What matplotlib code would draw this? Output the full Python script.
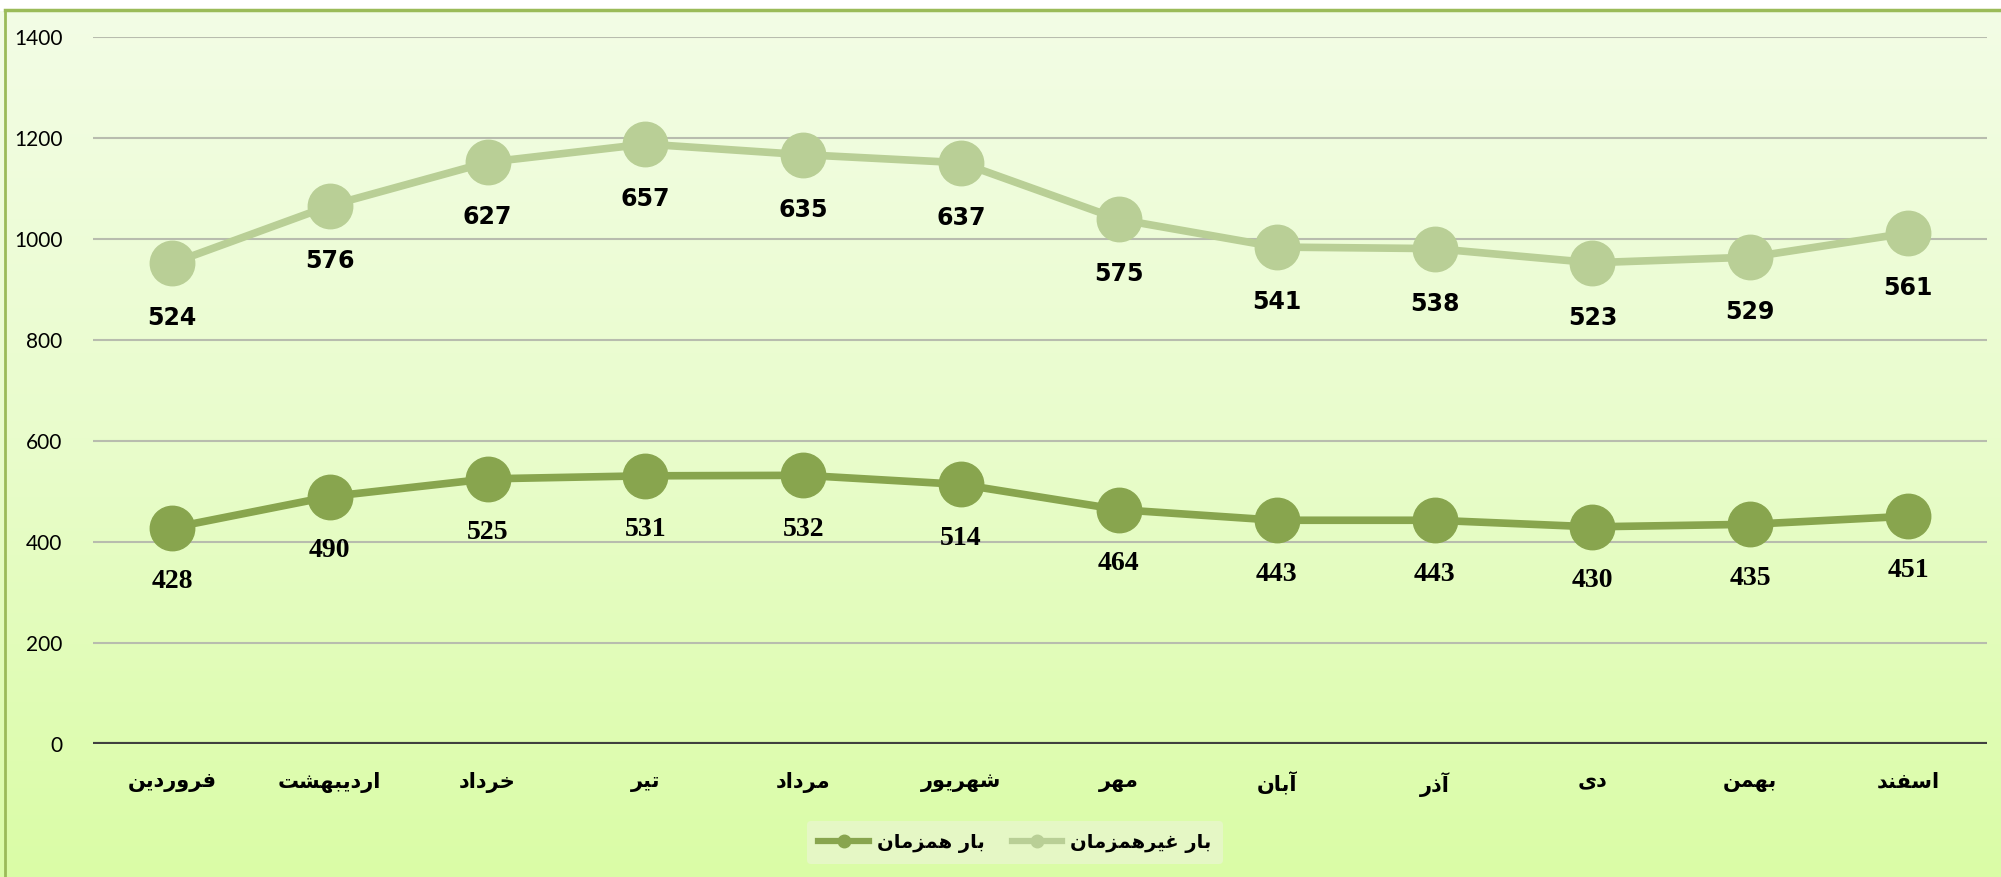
import matplotlib.pyplot as plt
import numpy as np
from matplotlib.lines import Line2D
from matplotlib.colors import LinearSegmentedColormap

# Monthly load values (stacked line chart)
months = ["فروردین", "اردیبهشت", "خرداد", "تیر", "مرداد", "شهریور",
          "مهر", "آبان", "آذر", "دی", "بهمن", "اسفند"]
simultaneous = [428, 490, 525, 531, 532, 514, 464, 443, 443, 430, 435, 451]
non_simultaneous = [524, 576, 627, 657, 635, 637, 575, 541, 538, 523, 529, 561]
name_sim = "بار همزمان"
name_nonsim = "بار غیرهمزمان"
y_ticks = [0, 200, 400, 600, 800, 1000, 1200, 1400]

# matplotlib has no arabic shaping, so pick presentation forms by hand
FORMS = {
    "ا": ("\uFE8D", "\uFE8E", None, None),
    "آ": ("\uFE81", "\uFE82", None, None),
    "ب": ("\uFE8F", "\uFE90", "\uFE91", "\uFE92"),
    "ت": ("\uFE95", "\uFE96", "\uFE97", "\uFE98"),
    "خ": ("\uFEA5", "\uFEA6", "\uFEA7", "\uFEA8"),
    "د": ("\uFEA9", "\uFEAA", None, None),
    "ذ": ("\uFEAB", "\uFEAC", None, None),
    "ر": ("\uFEAD", "\uFEAE", None, None),
    "ز": ("\uFEAF", "\uFEB0", None, None),
    "س": ("\uFEB1", "\uFEB2", "\uFEB3", "\uFEB4"),
    "ش": ("\uFEB5", "\uFEB6", "\uFEB7", "\uFEB8"),
    "غ": ("\uFECD", "\uFECE", "\uFECF", "\uFED0"),
    "ف": ("\uFED1", "\uFED2", "\uFED3", "\uFED4"),
    "م": ("\uFEE1", "\uFEE2", "\uFEE3", "\uFEE4"),
    "ن": ("\uFEE5", "\uFEE6", "\uFEE7", "\uFEE8"),
    "ه": ("\uFEE9", "\uFEEA", "\uFEEB", "\uFEEC"),
    "و": ("\uFEED", "\uFEEE", None, None),
    "ی": ("\uFBFC", "\uFBFD", "\uFBFE", "\uFBFF"),
}


def shape(word):
    out = []
    for i, ch in enumerate(word):
        if ch not in FORMS:
            out.append(ch)
            continue
        prev = word[i - 1] if i > 0 else None
        nxt = word[i + 1] if i + 1 < len(word) else None
        join_prev = prev in FORMS and FORMS[prev][2] is not None
        join_next = nxt in FORMS and FORMS[ch][2] is not None
        iso, fin, ini, med = FORMS[ch]
        if join_prev and join_next:
            out.append(med)
        elif join_prev:
            out.append(fin)
        elif join_next:
            out.append(ini)
        else:
            out.append(iso)
    return "".join(out)[::-1]


x = np.arange(len(months))
top = np.array(simultaneous) + np.array(non_simultaneous)

dark = "#88a54e"
light = "#b9cf96"

fig = plt.figure(figsize=(20.01, 8.77), dpi=100)

# background gradient
bg = fig.add_axes([0, 0, 1, 1], zorder=-2)
cmap = LinearSegmentedColormap.from_list("bg", ["#f3fde6", "#e9fccc", "#dafca6"])
bg.imshow(np.linspace(0, 1, 256).reshape(-1, 1), aspect="auto", cmap=cmap,
          extent=[0, 1, 0, 1], transform=bg.transAxes)
bg.axis("off")
fig.patches.append(plt.Rectangle((0, 0.989), 1, 0.011, transform=fig.transFigure,
                                 color="white", zorder=-1))
fig.lines.append(Line2D([0.0025, 1], [0.989, 0.989], transform=fig.transFigure,
                        color="#9bbb59", lw=2.5))
fig.lines.append(Line2D([0.0025, 0.0025], [0, 0.989], transform=fig.transFigure,
                        color="#9bbb59", lw=2))

ax = fig.add_axes([0.0465, 0.1517, 0.9465, 0.8061])
ax.set_facecolor("none")

ax.plot(x, simultaneous, color=dark, lw=5.5, marker="o", ms=32,
        zorder=3, solid_capstyle="round")
ax.plot(x, top, color=light, lw=5.5, marker="o", ms=32,
        zorder=3, solid_capstyle="round")

for xi, yi, v in zip(x, simultaneous, simultaneous):
    ax.annotate(str(v), (xi, yi), xytext=(0, -54), textcoords="offset pixels",
                ha="center", va="center", fontsize=20, fontweight="bold",
                family="Liberation Serif")
for xi, yi, v in zip(x, top, non_simultaneous):
    ax.annotate(str(v), (xi, yi), xytext=(0, -55), textcoords="offset pixels",
                ha="center", va="center", fontsize=17, fontweight="bold",
                family="DejaVu Sans")

ax.set_xlim(-0.5, len(months) - 0.5)
ax.set_ylim(0, 1400)
ax.set_yticks(y_ticks)
ax.set_yticklabels([str(t) for t in y_ticks], fontsize=15, family="Lato")
ax.set_xticks(x)
ax.set_xticklabels([shape(m) for m in months], fontsize=15, fontweight="bold",
                   family="DejaVu Sans")
ax.tick_params(axis="both", length=0)
ax.tick_params(axis="x", pad=20)
ax.tick_params(axis="y", pad=22)

for t in y_ticks[1:]:
    ax.axhline(t, color="#b8bcae", lw=1.5, zorder=1)
ax.axhline(0, color="#404040", lw=3, zorder=2)
for s in ax.spines.values():
    s.set_visible(False)

handles = [Line2D([], [], color=dark, lw=4.5, marker="o", ms=9),
           Line2D([], [], color=light, lw=4.5, marker="o", ms=9)]
leg = fig.legend(handles, [shape(name_sim), shape(name_nonsim)], ncol=2,
                 loc="center", bbox_to_anchor=(0.5072, 0.0393), frameon=True,
                 prop={"family": "DejaVu Sans", "weight": "bold", "size": 14},
                 handlelength=2.6, columnspacing=1.4, handletextpad=0.4,
                 borderpad=0.6)
leg.get_frame().set_facecolor("#e5f7c5")
leg.get_frame().set_edgecolor("none")
leg.get_frame().set_alpha(1)

fig.savefig("out.png", dpi=100)
